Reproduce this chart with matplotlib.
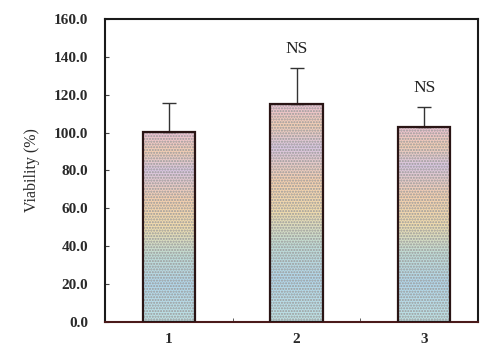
import numpy as np
import matplotlib
matplotlib.use("Agg")
import matplotlib.pyplot as plt
from matplotlib.colors import LinearSegmentedColormap

categories = ["1", "2", "3"]
means = [100.3, 115.2, 103.0]
errors = [15.3, 19.0, 10.5]
sig_labels = ["", "NS", "NS"]
yticks = [0, 20, 40, 60, 80, 100, 120, 140, 160]

serif = ["Liberation Serif", "DejaVu Serif"]

fig = plt.figure(figsize=(4.89, 3.51), dpi=100)
ax = fig.add_axes([0.215, 0.083, 0.762, 0.863])

x = np.arange(1, len(categories) + 1)
width = 0.41

cmap = LinearSegmentedColormap.from_list(
    "scan",
    [(0.0, "#bfe2e4"), (0.2, "#b2d6ea"), (0.35, "#c0dcd6"), (0.5, "#f0dcae"),
     (0.65, "#f4cfb0"), (0.8, "#d9c6e2"), (0.9, "#f2ceb4"), (1.0, "#ecc2d6")])
grad = np.linspace(0, 1, 256).reshape(-1, 1)

bars = ax.bar(x, means, width=width, color="none", edgecolor="none", zorder=2)
for b in bars:
    x0, y0 = b.get_x(), b.get_y()
    w, h = b.get_width(), b.get_height()
    im = ax.imshow(grad, cmap=cmap, origin="lower", aspect="auto",
                   extent=[x0, x0 + w, y0, y0 + h], zorder=1)
    im.set_clip_path(b)

# dotted texture
ax.bar(x, means, width=width, color="none", edgecolor="#9a9a9a",
       hatch="......", linewidth=0, zorder=3)
# outlines
ax.bar(x, means, width=width, color="none", edgecolor="#2a1515",
       linewidth=1.6, zorder=4)

ax.errorbar(x, means, yerr=[np.zeros(len(errors)), errors], fmt="none",
            ecolor="#333333", elinewidth=1.0, capsize=5, capthick=1.0, zorder=3)

for xi, m, e, s in zip(x, means, errors, sig_labels):
    if s:
        ax.text(xi, m + e + 10, s, ha="center", va="center",
                fontsize=12.5, family=serif, color="#222222")

ax.set_xlim(0.5, 3.42)
ax.set_ylim(0, 160)
ax.set_yticks(yticks)
ax.set_yticklabels([f"{v:.1f}" for v in yticks], family=serif,
                   fontweight="bold", fontsize=11, color="#2a2a2a")
ax.set_xticks(x)
ax.set_xticklabels(categories, family=serif, fontweight="bold",
                   fontsize=11, color="#2a2a2a")
ax.set_xticks([1.5, 2.5], minor=True)
ax.tick_params(axis="x", which="major", length=0, pad=8)
ax.tick_params(axis="x", which="minor", direction="in", length=3, color="#444444")
ax.tick_params(axis="y", direction="in", length=3, pad=12, color="#444444")

ax.set_ylabel("Viability (%)", family=serif, fontsize=11.5, color="#2a2a2a",
              labelpad=10)

for side, sp in ax.spines.items():
    sp.set_linewidth(1.5)
    sp.set_color("#1a1a1a")
ax.spines["bottom"].set_color("#4a1a1a")

fig.savefig("out.png", dpi=100)
